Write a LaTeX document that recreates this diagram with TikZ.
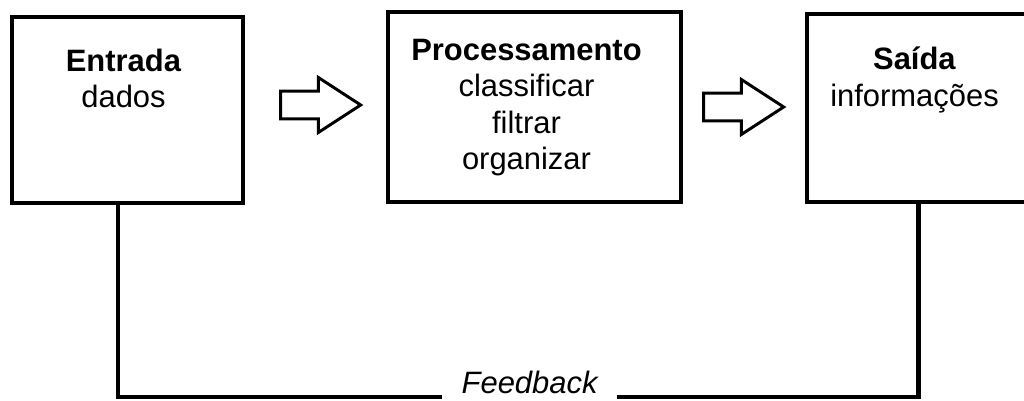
\documentclass[tikz,border=0pt]{standalone}
\usepackage{fontspec}
\setmainfont{Liberation Sans}
\usetikzlibrary{positioning,shapes.arrows}

\begin{document}
\begin{tikzpicture}[
    stage/.style={shape=rectangle, draw, line width=3.2pt},
    stagetext/.style={anchor=north, inner sep=0, align=center, font=\fontsize{22}{26}\selectfont},
    flow/.style={single arrow, draw, line width=2.1pt, inner xsep=0, inner ysep=0.31cm,
        minimum height=2cm, single arrow head extend=0.34cm, single arrow tip angle=66},
    loop/.style={line width=3.2pt}]
    \useasboundingbox (0,0) rectangle (25.6,-10.025);
    \node[stage, minimum width=5.775cm, minimum height=4.65cm] (entrada) at (3.1875,-2.75) {};
    \node[stage, minimum width=7.325cm, minimum height=4.75cm] (proc) at (13.3625,-2.675) {};
    \node[stage, minimum width=5.575cm, minimum height=4.7cm] (saida) at (22.9625,-2.7) {};
    \node[stagetext, below=0.85cm of entrada.north, xshift=-0.1cm] (entradatxt) {\textbf{Entrada}\\dados};
    \node[stagetext, below=0.72cm of proc.north, xshift=-0.2cm] (proctxt) {\textbf{Processamento}\\classificar\\filtrar\\organizar};
    \node[stagetext, below=0.88cm of saida.north, xshift=-0.1cm] (saidatxt) {\textbf{Saída}\\informações};
    \node[flow] (arr1) at (7.75,-2.625) {};
    \node[flow] (arr2) at (18.325,-2.675) {};
    \node[anchor=base, inner xsep=0.49cm, inner ysep=0, font=\fontsize{22}{26}\selectfont\itshape] (fb) at (13.24,-9.83) {Feedback};
    \coordinate (fbl) at (2.95,-9.925);
    \draw[loop] (entrada.south -| fbl) -- (fbl) -- (fbl -| fb.west);
    \draw[loop] (fb.east |- fbl) -- (fbl -| saida.south) -- (saida.south);
\end{tikzpicture}
\end{document}
